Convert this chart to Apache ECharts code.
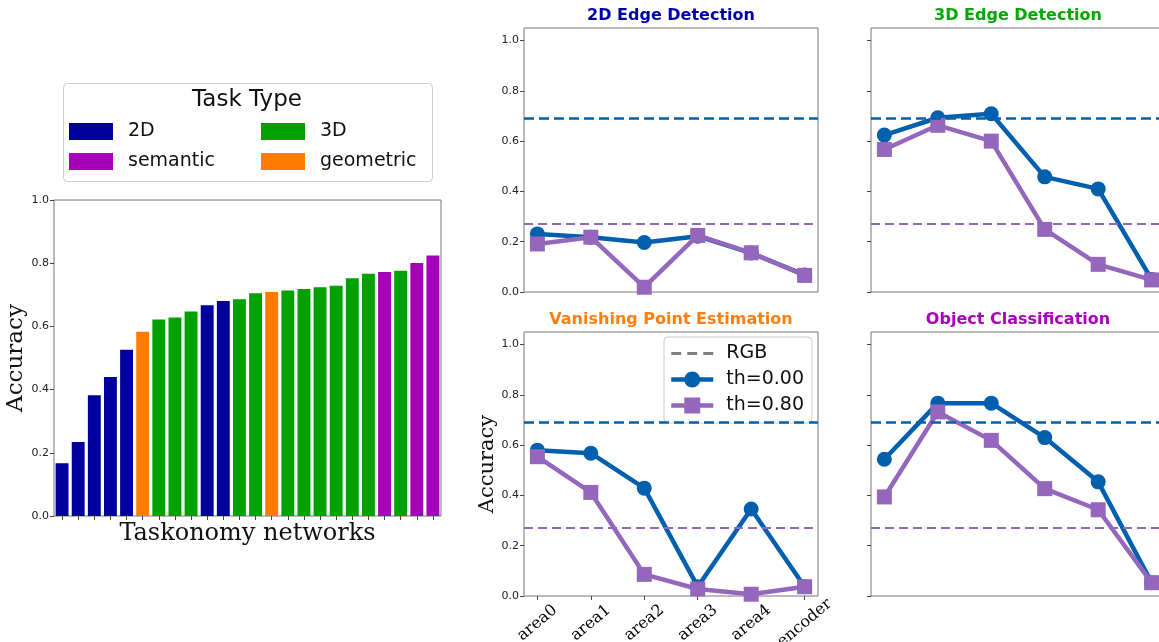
<!DOCTYPE html>
<html>
<head>
<meta charset="utf-8">
<title>Taskonomy accuracy</title>
<script src="https://cdn.jsdelivr.net/npm/echarts@6/dist/echarts.min.js"></script>
<style>
  html, body { margin: 0; padding: 0; background: #fff; }
  #chart { width: 1159px; height: 642px; }
</style>
</head>
<body>
<div id="chart"></div>
<script>
// Bar chart: accuracy of each Taskonomy network, sorted, coloured by task type
const networkAccuracy = [0.167, 0.234, 0.382, 0.440, 0.526, 0.583, 0.622, 0.628, 0.647, 0.667, 0.680, 0.686,
  0.705, 0.709, 0.714, 0.718, 0.724, 0.729, 0.752, 0.767, 0.772, 0.776, 0.801, 0.824];
const networkType = ["2D", "2D", "2D", "2D", "2D", "geometric", "3D", "3D", "3D", "2D", "2D", "3D",
  "3D", "geometric", "3D", "3D", "3D", "3D", "3D", "3D", "semantic", "3D", "semantic", "semantic"];
const networkNames = networkAccuracy.map((_, i) => "net" + i);
const taskTypes = ["2D", "3D", "semantic", "geometric"];

// Line charts: accuracy per layer
const layerLabels = ["area0", "area1", "area2", "area3", "area4", "encoder"];
const edge2dTh000 = [0.231, 0.218, 0.197, 0.222, 0.155, 0.068];
const edge2dTh080 = [0.191, 0.218, 0.019, 0.225, 0.156, 0.066];
const edge3dTh000 = [0.624, 0.693, 0.709, 0.458, 0.410, 0.050];
const edge3dTh080 = [0.567, 0.663, 0.600, 0.249, 0.110, 0.048];
const vanishTh000 = [0.580, 0.568, 0.429, 0.037, 0.346, 0.037];
const vanishTh080 = [0.554, 0.412, 0.086, 0.028, 0.007, 0.037];
const objectTh000 = [0.544, 0.767, 0.767, 0.630, 0.454, 0.053];
const objectTh080 = [0.394, 0.732, 0.619, 0.427, 0.343, 0.053];
const rgbTh000 = 0.690;
const rgbTh080 = 0.274;
const yTicks = [0, 0.2, 0.4, 0.6, 0.8, 1.0];
const xTicks = [0, 1, 2, 3, 4, 5];

const typeColors = {
  "2D": "#00009c",
  "3D": "#00a100",
  semantic: "#a600b8",
  geometric: "#ff7c00",
};
const blue = "#0060ad";
const purple = "#9467bd";
const frame = "#777";
const sans = "DejaVu Sans";
const serif = "DejaVu Serif";

const chart = echarts.init(document.getElementById("chart"));

// panels: [left, top, title, titleColor, th000, th080, showYLabels, showXLabels]
const panels = [
  [524, 28, "2D Edge Detection", "#0000a8", edge2dTh000, edge2dTh080, true, false],
  [871, 28, "3D Edge Detection", "#00a800", edge3dTh000, edge3dTh080, false, false],
  [524, 332, "Vanishing Point Estimation", "#ff7f0e", vanishTh000, vanishTh080, true, true],
  [871, 332, "Object Classification", "#aa00bb", objectTh000, objectTh080, false, false],
];

const grids = [{
  left: 54, top: 200, width: 387, height: 316,
  show: true, borderColor: frame, borderWidth: 1, outerBoundsMode: "none",
}];
const xAxes = [{
  type: "category",
  gridIndex: 0,
  data: networkNames,
  axisLine: { show: false },
  axisTick: { show: true, alignWithLabel: true, interval: 0, length: 4, lineStyle: { color: "#444" } },
  axisLabel: { show: false },
  name: "Taskonomy networks",
  nameLocation: "middle",
  nameGap: 6,
  nameTextStyle: { fontFamily: serif, fontSize: 24, color: "#111", verticalAlign: "top" },
}];
const yAxes = [{
  type: "value",
  gridIndex: 0,
  min: 0,
  max: 1,
  interval: 0.2,
  splitLine: { show: false },
  axisLine: { show: false, onZero: false },
  axisTick: { show: true, length: 4, lineStyle: { color: "#444" } },
  axisLabel: { fontFamily: sans, fontSize: 11, color: "#222", margin: 5, formatter: (v) => v.toFixed(1) },
  name: "Accuracy",
  nameLocation: "middle",
  nameRotate: 90,
  nameGap: 20,
  nameTextStyle: { fontFamily: serif, fontSize: 23, color: "#111" },
}];

const series = taskTypes.map((t) => ({
  name: t,
  type: "bar",
  xAxisIndex: 0,
  yAxisIndex: 0,
  barWidth: "80%",
  barGap: "-100%",
  itemStyle: { color: typeColors[t] },
  data: networkAccuracy.map((v, i) => (networkType[i] === t ? v : "-")),
}));

const titles = [{
  text: "Task Type",
  left: 247,
  top: 89,
  textAlign: "center",
  padding: 0,
  textStyle: { fontFamily: sans, fontSize: 23, fontWeight: "normal", color: "#111" },
}];

panels.forEach((p, k) => {
  const g = k + 1;
  grids.push({
    left: p[0], top: p[1], width: 294, height: 264,
    show: true, borderColor: frame, borderWidth: 1, outerBoundsMode: "none",
  });
  titles.push({
    text: p[2],
    left: p[0] + 147,
    top: p[1] - 20,
    textAlign: "center",
    padding: 0,
    textStyle: { fontFamily: sans, fontSize: 16, fontWeight: "bold", color: p[3] },
  });
  xAxes.push({
    type: "value",
    gridIndex: g,
    min: -0.25,
    max: 5.25,
    splitLine: { show: false },
    axisLine: { show: false, onZero: false },
    axisTick: { show: p[7], length: 4, customValues: xTicks, lineStyle: { color: "#444" } },
    axisLabel: {
      show: p[7],
      customValues: xTicks,
      rotate: 40,
      align: "center",
      verticalAlign: "middle",
      margin: 27,
      fontFamily: serif,
      fontSize: 16,
      color: "#000",
      formatter: (v) => layerLabels[Math.round(v)] || "",
    },
  });
  yAxes.push({
    type: "value",
    gridIndex: g,
    min: 0,
    max: 1.05,
    splitLine: { show: false },
    axisLine: { show: false, onZero: false },
    axisTick: { show: true, length: 4, customValues: yTicks, lineStyle: { color: "#444" } },
    axisLabel: {
      show: p[6],
      customValues: yTicks,
      fontFamily: sans,
      fontSize: 11,
      color: "#222",
      margin: 5,
      formatter: (v) => v.toFixed(1),
    },
    name: k === 2 ? "Accuracy" : "",
    nameLocation: "middle",
    nameRotate: 90,
    nameGap: 16,
    nameTextStyle: { fontFamily: serif, fontSize: 21, color: "#111" },
  });
  series.push({
    name: "th=0.00",
    type: "line",
    xAxisIndex: g,
    yAxisIndex: g,
    symbol: "circle",
    symbolSize: 15,
    color: blue,
    lineStyle: { width: 4.5, color: blue },
    data: p[4].map((v, i) => [i, v]),
    markLine: {
      silent: true,
      symbol: "none",
      label: { show: false },
      lineStyle: { color: blue, width: 2.6, type: [10, 5] },
      data: [{ yAxis: rgbTh000 }],
    },
  });
  series.push({
    name: "th=0.80",
    type: "line",
    xAxisIndex: g,
    yAxisIndex: g,
    symbol: "rect",
    symbolSize: 15,
    color: purple,
    lineStyle: { width: 4.5, color: purple },
    data: p[5].map((v, i) => [i, v]),
    markLine: {
      silent: true,
      symbol: "none",
      label: { show: false },
      lineStyle: { color: purple, width: 2.2, type: [9, 5] },
      data: [{ yAxis: rgbTh080 }],
    },
  });
});

// entrada de leyenda para la línea base RGB (sin marcador)
series.push({
  name: "RGB",
  type: "line",
  xAxisIndex: 3,
  yAxisIndex: 3,
  symbol: "none",
  itemStyle: { color: "rgba(0,0,0,0)", borderWidth: 0 },
  lineStyle: { color: "#808080", width: 3, type: [10, 6] },
  data: [],
});

// Task Type legend: one legend per entry so the two columns line up
const legendSpots = { "2D": [69, 122], "3D": [261, 122], semantic: [69, 152], geometric: [261, 152] };
const legends = taskTypes.map((t) => ({
  data: [t],
  left: legendSpots[t][0],
  top: legendSpots[t][1],
  padding: 0,
  icon: "rect",
  itemWidth: 44,
  itemHeight: 17,
  selectedMode: false,
  textStyle: { fontFamily: sans, fontSize: 19, color: "#111", lineHeight: 17, padding: [0, 0, 0, 10] },
}));
legends.push({
  data: [
    { name: "RGB", lineStyle: { width: 3 } },
    { name: "th=0.00", lineStyle: { width: 4.5 } },
    { name: "th=0.80", lineStyle: { width: 4.5 } },
  ],
  orient: "vertical",
  left: 664,
  top: 337,
  padding: [7, 8, 8, 5],
  itemWidth: 42,
  itemHeight: 20,
  itemGap: 7,
  selectedMode: false,
  backgroundColor: "rgba(255,255,255,0.8)",
  borderColor: "#ccc",
  borderWidth: 1,
  borderRadius: 4,
  textStyle: { fontFamily: sans, fontSize: 19, color: "#111", lineHeight: 19, padding: [0, 0, 0, 8] },
});

chart.setOption({
  animation: false,
  backgroundColor: "#fff",
  title: titles,
  graphic: [{
    type: "rect",
    left: 63,
    top: 83,
    shape: { width: 369, height: 98, r: 4 },
    style: { fill: "#fff", stroke: "#ccc", lineWidth: 1 },
    z: 0,
  }],
  legend: legends,
  grid: grids,
  xAxis: xAxes,
  yAxis: yAxes,
  series: series,
});

window.addEventListener("resize", () => chart.resize());
</script>
</body>
</html>
